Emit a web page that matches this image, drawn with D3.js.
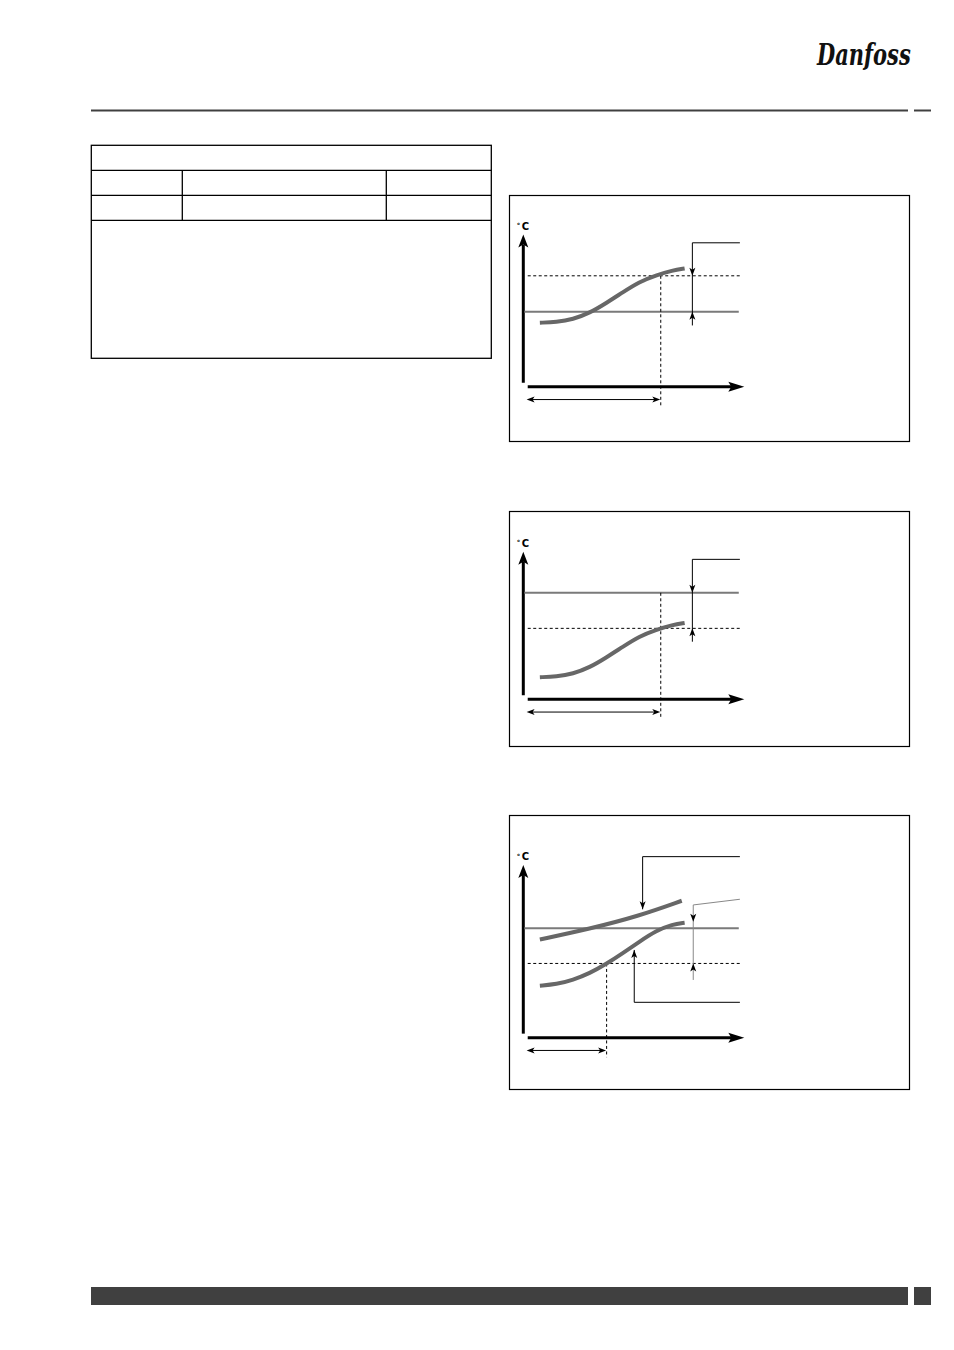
<!DOCTYPE html>
<html>
<head>
<meta charset="utf-8">
<script src="https://cdn.jsdelivr.net/npm/d3@7"></script>
<style>
  html, body { margin: 0; padding: 0; background: #fff; }
  svg { display: block; }
</style>
</head>
<body>
<div id="chart"></div>
<script>
// time axis samples shared by the s-curves (0..100 = along the time arrow)
var curveTimes = [7.5, 15, 22.5, 30, 37.5, 45, 52.5, 60, 67.5, 73];

// fig 1: temperature rises above the set point
var curve1 = [42.7, 43.2, 45, 49.2, 55.8, 63, 70, 74.3, 77.6, 78.9];
// fig 2: temperature stays below the set point
var curve2 = [14.7, 15.2, 17, 21.2, 27.8, 35, 42, 46.3, 49.6, 50.9];
// fig 3: lower s-curve and the rising upper line
var curve3Low = [34.7, 35.6, 38.5, 42.9, 49.1, 56.3, 64, 71.3, 75.6, 76.7];
var curve3UpTimes = [7.5, 30, 52, 71.7];
var curve3Up = [65.5, 72.6, 81, 91.3];

var setPoints = [50, 71, 73];       // solid grey line per figure
var limits = [74, 47.3, 49.5];      // dashed line per figure
var delayTimes = [62.2, 62.2, 37.7]; // dashed vertical / time span
var axisTops = [101.5, 98.4, 115.1];

// table grid (rows / columns of the empty table on the left)
var tableRows = [170.3, 195.3, 220.3];
var tableCols = [182.3, 386.3];

(function () {
  'use strict';

  var W = 954, H = 1350,
    COLOR_CURVE = '#676767',
    COLOR_SET = '#7a7a7a',
    COLOR_DARK = '#404040',
    svg, panels, x;

  svg = d3.select('#chart').append('svg')
    .attr('width', W).attr('height', H);
  svg.append('rect').attr('width', W).attr('height', H).attr('fill', '#fff');

  // page header: logo (squeezed italic) + rule
  svg.append('text')
    .text('Danfoss')
    .attr('transform', 'translate(817,65) scale(0.7,1)')
    .attr('font-family', 'DejaVu Serif')
    .attr('font-style', 'italic')
    .attr('font-weight', 'bold')
    .attr('font-size', 30)
    .attr('fill', '#111');
  svg.append('line').attr('x1', 91).attr('x2', 908).attr('y1', 110.5).attr('y2', 110.5)
    .attr('stroke', COLOR_DARK).attr('stroke-width', 2);
  svg.append('line').attr('x1', 914).attr('x2', 931).attr('y1', 110.5).attr('y2', 110.5)
    .attr('stroke', COLOR_DARK).attr('stroke-width', 2);

  // footer bar
  svg.append('rect').attr('x', 91).attr('y', 1287).attr('width', 817).attr('height', 18).attr('fill', COLOR_DARK);
  svg.append('rect').attr('x', 914).attr('y', 1287).attr('width', 17).attr('height', 18).attr('fill', COLOR_DARK);

  // table
  var table = svg.append('g').attr('fill', 'none').attr('stroke', '#000').attr('stroke-width', 1.3);
  table.append('rect').attr('x', 91.3).attr('y', 145.3).attr('width', 400).attr('height', 213);
  tableRows.forEach(function (r) {
    table.append('line').attr('x1', 91.3).attr('x2', 491.3).attr('y1', r).attr('y2', r);
  });
  tableCols.forEach(function (c) {
    table.append('line').attr('x1', c).attr('x2', c).attr('y1', tableRows[0]).attr('y2', tableRows[2]);
  });

  // arrow head with a notched back, tip at (px, py), rotated by angle (deg)
  function arrowHead(g, px, py, angle, len, half, notch, color) {
    g.append('path')
      .attr('d', 'M0,0L' + (-len) + ',' + (-half) + 'L' + (-len + notch) + ',0L' + (-len) + ',' + half + 'Z')
      .attr('transform', 'translate(' + px + ',' + py + ') rotate(' + angle + ')')
      .attr('fill', color || '#000');
  }

  x = d3.scaleLinear().domain([0, 100]).range([523.3, 744.3]);

  panels = [
    { box: [509, 195, 400, 246], axisY: 386.8 },
    { box: [509, 511, 400, 235], axisY: 699.3 },
    { box: [509, 815, 400, 274], axisY: 1037.7 }
  ];

  panels.forEach(function (p, i) {
    var g, y, line, top;
    g = svg.append('g');
    y = d3.scaleLinear().domain([0, 100]).range([p.axisY, p.axisY - 150]);
    line = d3.line().x(function (d) { return x(d[0]); }).y(function (d) { return y(d[1]); })
      .curve(d3.curveBasis);
    top = axisTops[i];

    g.append('rect')
      .attr('x', p.box[0] + 0.5).attr('y', p.box[1] + 0.5)
      .attr('width', p.box[2]).attr('height', p.box[3])
      .attr('fill', 'none').attr('stroke', '#000').attr('stroke-width', 1.2);

    // axes
    g.append('line').attr('x1', x(0)).attr('x2', x(0)).attr('y1', y(2.7)).attr('y2', y(top) + 10)
      .attr('stroke', '#000').attr('stroke-width', 3);
    arrowHead(g, x(0), y(top), -90, 13, 5, 3);
    g.append('line').attr('x1', x(2)).attr('x2', x(100) - 10).attr('y1', y(0)).attr('y2', y(0))
      .attr('stroke', '#000').attr('stroke-width', 3);
    arrowHead(g, x(100), y(0), 0, 16, 5, 3);

    var lab = g.append('text').attr('x', x(0) - 6.5).attr('y', y(top) - 5)
      .attr('font-family', 'DejaVu Sans').attr('font-weight', 'bold').attr('fill', '#000');
    lab.append('tspan').text('°').attr('font-size', 7).attr('dy', -1.5);
    lab.append('tspan').text('C').attr('font-size', 10).attr('dx', 1.5).attr('dy', 1.5);

    // set point (solid grey) and limit (dashed)
    g.append('line').attr('x1', x(0.5)).attr('x2', x(97.5)).attr('y1', y(setPoints[i])).attr('y2', y(setPoints[i]))
      .attr('stroke', COLOR_SET).attr('stroke-width', 2);
    g.append('line').attr('x1', x(2)).attr('x2', x(98)).attr('y1', y(limits[i])).attr('y2', y(limits[i]))
      .attr('stroke', '#000').attr('stroke-width', 1).attr('stroke-dasharray', '3,2.5');

    // delay marker
    var vTop = i === 1 ? setPoints[i] : limits[i];
    g.append('line').attr('x1', x(delayTimes[i])).attr('x2', x(delayTimes[i]))
      .attr('y1', y(vTop)).attr('y2', y(-13))
      .attr('stroke', '#000').attr('stroke-width', 1).attr('stroke-dasharray', '3,2.5');
    var ySpan = y(-8.5);
    g.append('line').attr('x1', x(1.5) + 4).attr('x2', x(delayTimes[i]) - 4).attr('y1', ySpan).attr('y2', ySpan)
      .attr('stroke', '#000').attr('stroke-width', 1);
    arrowHead(g, x(1.5), ySpan, 180, 8, 3, 2);
    arrowHead(g, x(delayTimes[i]) - 0.5, ySpan, 0, 8, 3, 2);

    // curves
    var main = i === 0 ? curve1 : (i === 1 ? curve2 : curve3Low);
    g.append('path').datum(curveTimes.map(function (t, k) { return [t, main[k]]; }))
      .attr('d', line).attr('fill', 'none').attr('stroke', COLOR_CURVE).attr('stroke-width', 4);
    if (i === 2) {
      g.append('path').datum(curve3UpTimes.map(function (t, k) { return [t, curve3Up[k]]; }))
        .attr('d', line).attr('fill', 'none').attr('stroke', COLOR_CURVE).attr('stroke-width', 4);
    }

    // leaders
    var bx = x(76.5);
    if (i < 2) {
      var bTop = i === 0 ? 96 : 93.3, bBot = i === 0 ? 40.9 : 38.4;
      var hi = Math.max(setPoints[i], limits[i]), lo = Math.min(setPoints[i], limits[i]);
      g.append('path')
        .attr('d', 'M' + x(98) + ',' + y(bTop) + 'H' + bx + 'V' + y(bBot))
        .attr('fill', 'none').attr('stroke', '#000').attr('stroke-width', 1);
      arrowHead(g, bx, y(hi), 90, 8, 3, 2);
      arrowHead(g, bx, y(lo), -90, 8, 3, 2);
    } else {
      g.append('path')
        .attr('d', 'M' + x(98) + ',' + y(120.7) + 'H' + x(54) + 'V' + y(85.6))
        .attr('fill', 'none').attr('stroke', '#000').attr('stroke-width', 1);
      arrowHead(g, x(54), y(85.6), 90, 8, 3, 2);

      bx = x(76.9);
      g.append('path')
        .attr('d', 'M' + x(98) + ',' + y(92.3) + 'L' + bx + ',' + y(88.5) + 'V' + y(38.5))
        .attr('fill', 'none').attr('stroke', '#888').attr('stroke-width', 1);
      arrowHead(g, bx, y(77.3), 90, 8, 3, 2);
      arrowHead(g, bx, y(limits[i]), -90, 8, 3, 2);

      g.append('path')
        .attr('d', 'M' + x(98) + ',' + y(23.6) + 'H' + x(50.2) + 'V' + y(58.5))
        .attr('fill', 'none').attr('stroke', '#000').attr('stroke-width', 1);
      arrowHead(g, x(50.2), y(58.5), -90, 8, 3, 2);
    }
  });
})();
</script>
</body>
</html>
